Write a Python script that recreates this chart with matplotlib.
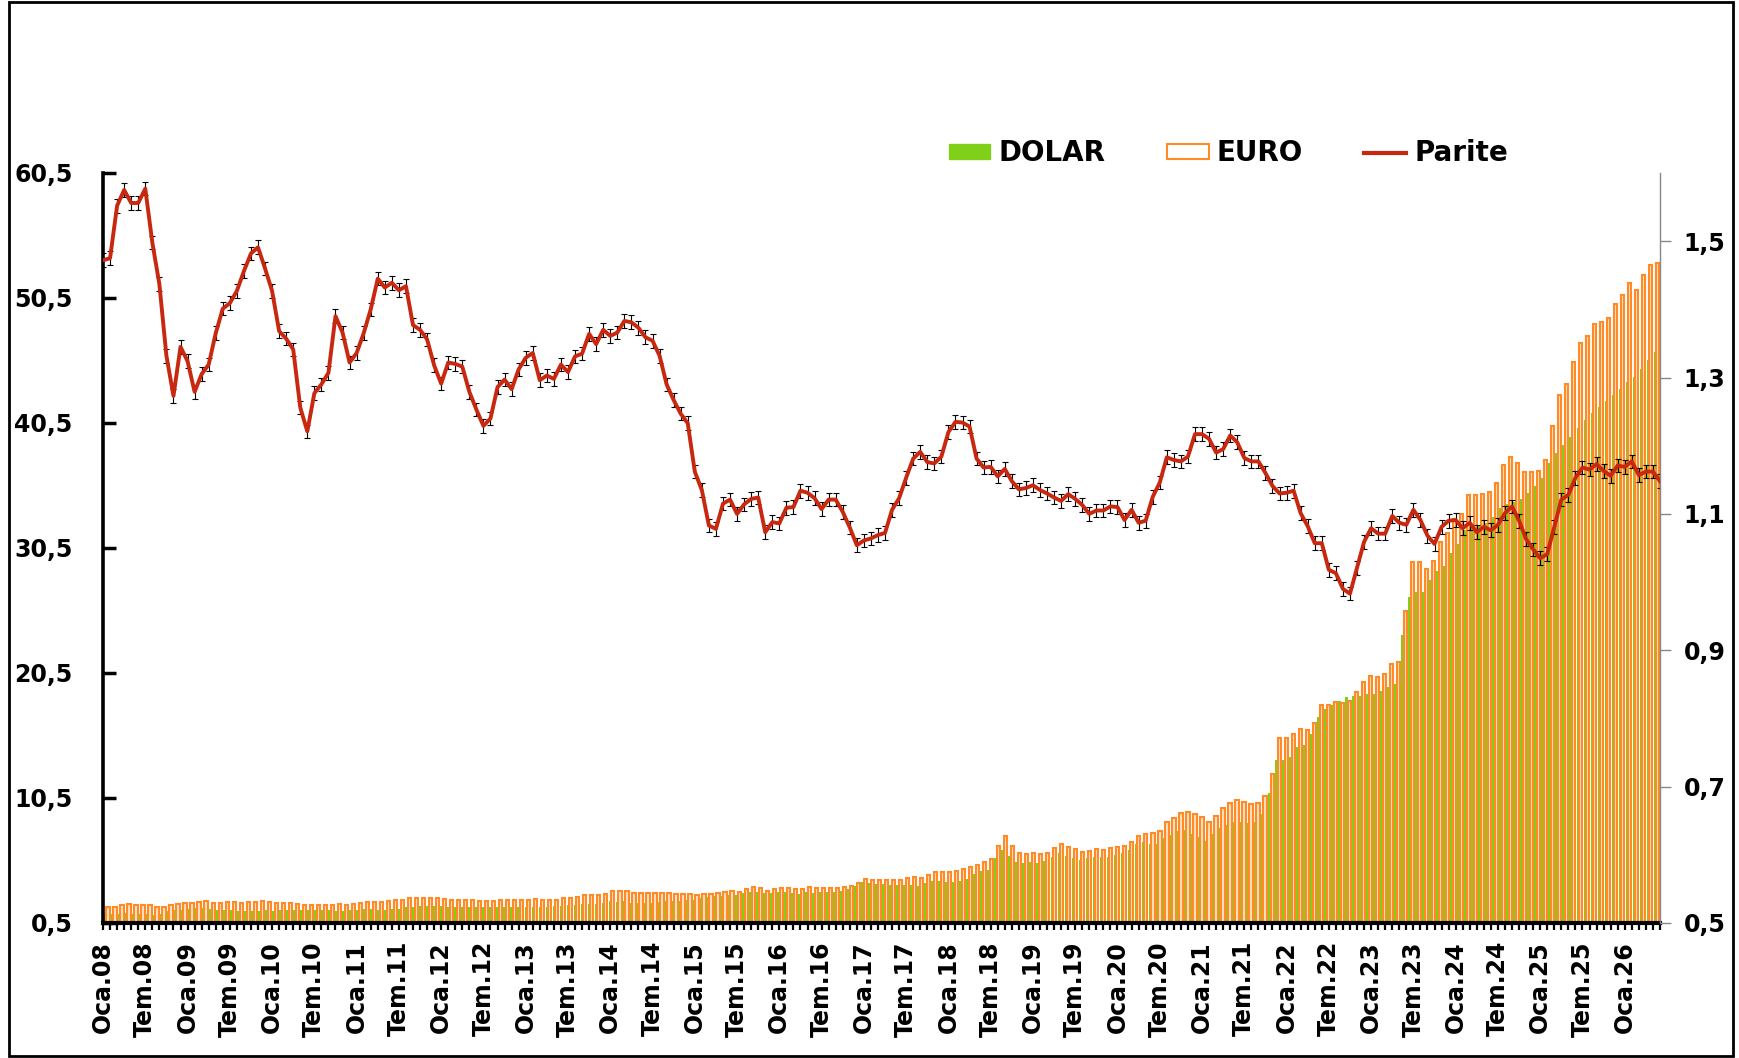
# DOLAR / EURO (TL) aylik ortalama ve EUR/USD paritesi
import numpy as np
import matplotlib
matplotlib.use("Agg")
import matplotlib.pyplot as plt
from matplotlib.patches import Patch, Rectangle
from matplotlib.lines import Line2D

# aylik veriler: Oca.08 - Haz.26
dolar = [
    1.18, 1.20, 1.25, 1.29, 1.24, 1.23, 1.21, 1.17, 1.22, 1.46, 1.56, 1.54,
    1.60, 1.68, 1.72, 1.61, 1.55, 1.55, 1.52, 1.48, 1.48, 1.47, 1.49, 1.50,
    1.47, 1.51, 1.53, 1.50, 1.55, 1.57, 1.53, 1.51, 1.50, 1.43, 1.44, 1.52,
    1.57, 1.60, 1.58, 1.53, 1.56, 1.60, 1.65, 1.74, 1.80, 1.84, 1.82, 1.87,
    1.85, 1.76, 1.79, 1.79, 1.81, 1.81, 1.81, 1.79, 1.80, 1.80, 1.80, 1.79,
    1.77, 1.78, 1.81, 1.80, 1.82, 1.89, 1.93, 1.96, 2.02, 1.98, 2.02, 2.06,
    2.22, 2.21, 2.22, 2.12, 2.09, 2.11, 2.13, 2.17, 2.23, 2.25, 2.24, 2.30,
    2.33, 2.47, 2.59, 2.66, 2.65, 2.70, 2.70, 2.86, 3.01, 2.94, 2.87, 2.92,
    3.00, 2.94, 2.89, 2.83, 2.95, 2.91, 2.96, 2.96, 2.97, 3.07, 3.23, 3.49,
    3.75, 3.67, 3.65, 3.64, 3.57, 3.52, 3.54, 3.52, 3.47, 3.69, 3.89, 3.84,
    3.77, 3.79, 3.88, 4.04, 4.38, 4.63, 4.77, 5.73, 6.36, 5.83, 5.37, 5.31,
    5.37, 5.27, 5.42, 5.78, 6.06, 5.83, 5.69, 5.55, 5.70, 5.81, 5.74, 5.81,
    5.92, 6.07, 6.33, 6.83, 6.96, 6.82, 6.85, 7.28, 7.55, 7.89, 7.92, 7.60,
    7.40, 7.07, 7.60, 8.13, 8.34, 8.57, 8.58, 8.49, 8.59, 9.19, 10.87, 13.53,
    13.54, 13.78, 14.56, 14.71, 15.59, 16.94, 17.61, 17.93, 18.27, 18.58, 18.62, 18.65,
    18.79, 18.84, 19.03, 19.35, 19.64, 23.50, 26.55, 26.96, 26.97, 27.90, 28.64, 29.06,
    30.06, 30.78, 31.94, 32.36, 32.22, 32.52, 32.94, 33.72, 33.99, 34.21, 34.40, 34.88,
    35.45, 36.07, 37.27, 38.12, 38.70, 39.35, 40.12, 40.76, 41.30, 41.74, 42.29, 42.70,
    43.20, 43.80, 44.20, 44.80, 45.50, 46.20,
]

euro = [
    1.74, 1.77, 1.94, 2.03, 1.93, 1.91, 1.91, 1.75, 1.75, 1.95, 1.99, 2.07,
    2.12, 2.15, 2.25, 2.12, 2.12, 2.17, 2.14, 2.11, 2.16, 2.18, 2.22, 2.19,
    2.10, 2.07, 2.08, 2.01, 1.95, 1.92, 1.95, 1.95, 1.96, 1.99, 1.97, 2.01,
    2.10, 2.18, 2.21, 2.21, 2.23, 2.30, 2.36, 2.50, 2.48, 2.52, 2.47, 2.47,
    2.39, 2.33, 2.36, 2.36, 2.32, 2.27, 2.22, 2.22, 2.32, 2.34, 2.31, 2.35,
    2.35, 2.38, 2.35, 2.35, 2.36, 2.49, 2.52, 2.61, 2.70, 2.70, 2.73, 2.82,
    3.02, 3.02, 3.07, 2.93, 2.87, 2.87, 2.88, 2.89, 2.88, 2.85, 2.79, 2.84,
    2.71, 2.80, 2.81, 2.87, 2.96, 3.03, 2.97, 3.19, 3.38, 3.31, 3.08, 3.18,
    3.26, 3.26, 3.21, 3.21, 3.34, 3.27, 3.28, 3.32, 3.33, 3.39, 3.49, 3.68,
    3.98, 3.91, 3.90, 3.90, 3.95, 3.95, 4.08, 4.16, 4.13, 4.34, 4.57, 4.55,
    4.60, 4.68, 4.79, 4.96, 5.17, 5.41, 5.58, 6.62, 7.42, 6.69, 6.10, 6.04,
    6.13, 5.98, 6.13, 6.50, 6.78, 6.58, 6.38, 6.18, 6.27, 6.42, 6.34, 6.46,
    6.57, 6.62, 7.00, 7.42, 7.59, 7.67, 7.85, 8.61, 8.90, 9.29, 9.38, 9.25,
    9.01, 8.56, 9.04, 9.72, 10.13, 10.33, 10.14, 9.99, 10.11, 10.66, 12.40, 15.29,
    15.31, 15.63, 16.03, 15.92, 16.48, 17.91, 17.93, 18.16, 18.09, 18.26, 19.01, 19.75,
    20.27, 20.18, 20.38, 21.23, 21.35, 25.47, 29.36, 29.41, 28.80, 29.46, 30.96, 31.68,
    32.80, 33.21, 34.72, 34.72, 34.83, 34.99, 35.71, 37.13, 37.76, 37.29, 36.57, 36.55,
    36.69, 37.55, 40.29, 42.73, 43.65, 45.37, 46.86, 47.49, 48.44, 48.54, 48.89, 50.00,
    50.70, 51.70, 51.10, 52.30, 53.10, 53.30,
]

parite = [
    1.472, 1.475, 1.552, 1.575, 1.556, 1.556, 1.577, 1.498, 1.437, 1.332, 1.273, 1.345,
    1.324, 1.279, 1.305, 1.319, 1.365, 1.401, 1.409, 1.427, 1.456, 1.482, 1.491, 1.460,
    1.427, 1.368, 1.357, 1.341, 1.256, 1.221, 1.277, 1.290, 1.307, 1.390, 1.366, 1.322,
    1.336, 1.365, 1.400, 1.445, 1.432, 1.439, 1.428, 1.434, 1.377, 1.370, 1.356, 1.318,
    1.291, 1.322, 1.320, 1.316, 1.279, 1.253, 1.229, 1.240, 1.286, 1.297, 1.283, 1.312,
    1.329, 1.336, 1.296, 1.303, 1.298, 1.319, 1.308, 1.331, 1.335, 1.364, 1.349, 1.370,
    1.361, 1.366, 1.383, 1.381, 1.373, 1.359, 1.354, 1.332, 1.290, 1.267, 1.247, 1.233,
    1.162, 1.135, 1.083, 1.078, 1.115, 1.121, 1.100, 1.114, 1.122, 1.124, 1.073, 1.088,
    1.086, 1.109, 1.110, 1.134, 1.131, 1.123, 1.107, 1.121, 1.121, 1.103, 1.080, 1.054,
    1.061, 1.064, 1.069, 1.072, 1.106, 1.123, 1.153, 1.181, 1.191, 1.176, 1.174, 1.184,
    1.220, 1.235, 1.234, 1.228, 1.181, 1.168, 1.169, 1.155, 1.166, 1.148, 1.136, 1.138,
    1.142, 1.135, 1.130, 1.124, 1.119, 1.129, 1.122, 1.113, 1.100, 1.105, 1.105, 1.111,
    1.110, 1.091, 1.106, 1.087, 1.090, 1.125, 1.146, 1.183, 1.179, 1.177, 1.184, 1.217,
    1.217, 1.210, 1.190, 1.195, 1.215, 1.205, 1.182, 1.177, 1.177, 1.160, 1.141, 1.130,
    1.131, 1.134, 1.101, 1.082, 1.057, 1.057, 1.018, 1.013, 0.990, 0.983, 1.021, 1.059,
    1.079, 1.071, 1.071, 1.097, 1.087, 1.084, 1.106, 1.091, 1.068, 1.056, 1.081, 1.090,
    1.091, 1.079, 1.087, 1.073, 1.081, 1.076, 1.084, 1.101, 1.111, 1.090, 1.063, 1.048,
    1.035, 1.041, 1.081, 1.121, 1.128, 1.153, 1.168, 1.165, 1.173, 1.163, 1.156, 1.171,
    1.169, 1.177, 1.157, 1.162, 1.162, 1.148,
]
parite_hata = 0.01  # hata cubugu

x_etiket = [
    "Oca.08", "Tem.08", "Oca.09", "Tem.09", "Oca.10", "Tem.10", "Oca.11", "Tem.11",
    "Oca.12", "Tem.12", "Oca.13", "Tem.13", "Oca.14", "Tem.14", "Oca.15", "Tem.15",
    "Oca.16", "Tem.16", "Oca.17", "Tem.17", "Oca.18", "Tem.18", "Oca.19", "Tem.19",
    "Oca.20", "Tem.20", "Oca.21", "Tem.21", "Oca.22", "Tem.22", "Oca.23", "Tem.23",
    "Oca.24", "Tem.24", "Oca.25", "Tem.25", "Oca.26",
]
sol_tick = [0.5, 10.5, 20.5, 30.5, 40.5, 50.5, 60.5]
sol_etiket = ["0,5", "10,5", "20,5", "30,5", "40,5", "50,5", "60,5"]
sag_tick = [0.5, 0.7, 0.9, 1.1, 1.3, 1.5]
sag_etiket = ["0,5", "0,7", "0,9", "1,1", "1,3", "1,5"]

YESIL = "#80D01A"
TURUNCU = "#FF8A26"
KIRMIZI = "#C8280F"

plt.rcParams["font.family"] = "DejaVu Sans"
plt.rcParams["font.weight"] = "bold"

n = len(dolar)
x = np.arange(n)
x_cizgi = np.linspace(-0.5, n - 0.5, n)  # cizgi serisi eksen kenarindan kenarina

fig = plt.figure(figsize=(17.4, 10.58), dpi=100)
ax = fig.add_axes([0.0592, 0.1276, 0.8948, 0.7089])

# sutunlar
ax.bar(x - 0.22, dolar, width=0.36, color=YESIL, linewidth=0)
ax.bar(x + 0.2, euro, width=0.46, facecolor="#FFE2C4", edgecolor=TURUNCU, linewidth=1.5)
ax.set_xlim(-0.5, n - 0.5)
ax.set_ylim(0.5, 60.5)

ax.set_yticks(sol_tick)
ax.set_yticklabels(sol_etiket)
ax.tick_params(axis="y", direction="in", length=9, width=2.5, labelsize=17, pad=22)
ax.set_xticks(x_cizgi[::6])
ax.set_xticklabels(x_etiket, rotation=90)
ax.set_xticks(x_cizgi, minor=True)
ax.tick_params(axis="x", which="both", direction="out", length=5, width=1.6, labelsize=17, pad=8)

for s in ["top", "right"]:
    ax.spines[s].set_visible(False)
ax.spines["left"].set_linewidth(2.6)
ax.spines["bottom"].set_linewidth(3)

# parite, ikincil eksen
ax2 = ax.twinx()
ax2.errorbar(x_cizgi, parite, yerr=parite_hata, fmt="none", ecolor="black",
             elinewidth=0.8, capsize=2.5, capthick=0.8, zorder=2)
ax2.plot(x_cizgi, parite, color=KIRMIZI, linewidth=2.8, zorder=3)
ax2.set_ylim(0.5, 1.6)
ax2.set_yticks(sag_tick)
ax2.set_yticklabels(sag_etiket)
ax2.tick_params(axis="y", direction="out", length=8, width=1, color="#888888",
                labelsize=17, pad=9)
for s in ["top", "left", "bottom"]:
    ax2.spines[s].set_visible(False)
ax2.spines["right"].set_color("#888888")
ax2.spines["right"].set_linewidth(1)

# lejant
handles = [
    Patch(facecolor=YESIL, edgecolor=YESIL),
    Patch(facecolor="white", edgecolor=TURUNCU, linewidth=1.5),
    Line2D([], [], color=KIRMIZI, linewidth=3),
]
fig.legend(handles, ["DOLAR", "EURO", "Parite"], loc="center",
           bbox_to_anchor=(0.706, 0.855), ncol=3, frameon=False, fontsize=20,
           handlelength=1.5, handleheight=0.5, handletextpad=0.3, columnspacing=2.2)

# cerceve
fig.patches.append(Rectangle((0.0052, 0.002), 0.9908, 0.996, transform=fig.transFigure,
                             fill=False, edgecolor="black", linewidth=2))

fig.savefig("out.png", dpi=100)
